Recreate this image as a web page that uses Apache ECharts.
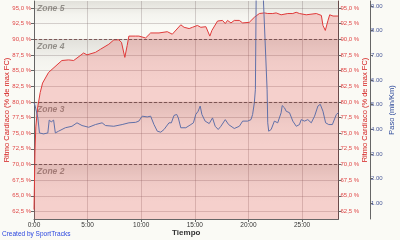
<!DOCTYPE html>
<html><head><meta charset="utf-8">
<script src="https://cdn.jsdelivr.net/npm/echarts@6/dist/echarts.min.js"></script>
<style>html,body{margin:0;padding:0;background:#fafaf5}#c{width:400px;height:240px}</style>
</head><body><div id="c"></div>
<script>
// Heart rate (% of max HR) vs time (minutes)
const hrTime = [0,0.02,0.09,0.17,0.33,0.58,0.80,1.36,2.60,3.23,3.70,4.63,4.94,5.73,6.20,6.98,7.45,7.91,8.16,8.47,8.69,8.85,9.48,9.78,10.41,10.88,11.66,12.43,12.90,13.69,14.00,14.47,14.78,15.24,15.56,16.03,16.18,16.40,16.59,17.12,17.58,17.84,18.05,18.37,18.68,19.15,19.46,20.08,20.55,21.02,21.49,21.80,21.96,22.27,22.58,23.05,23.67,24.14,24.45,24.76,25.39,26.33,26.80,26.95,27.17,27.42,27.58,27.73,27.89,28.35];
const hrPct = [62.8,64.9,72.0,76.0,79.0,81.5,83.0,84.7,86.6,86.7,86.6,87.8,87.5,87.9,88.4,89.2,89.9,89.9,89.5,87.1,89.0,90.5,90.5,90.5,90.2,91.0,91.0,91.2,90.8,92.3,91.9,91.7,91.9,92.2,91.9,92.0,92.3,90.5,91.4,92.9,93.0,92.5,93.0,92.6,93.0,93.0,92.6,92.7,93.5,94.1,94.2,94.1,94.4,94.1,94.2,93.9,94.1,94.1,94.3,94.1,93.9,94.1,93.8,92.2,91.4,93.0,93.9,94.1,93.7,93.7];
// Pace (min/Km) vs time (minutes)
const paceTime = [0,0.11,0.36,0.51,0.89,1.29,1.42,1.61,1.83,1.99,2.29,2.92,3.54,4.01,4.48,5.10,5.73,6.35,6.67,7.44,8.22,8.85,9.48,9.78,10.09,10.56,10.88,11.19,11.50,11.82,12.13,12.59,12.81,13.06,13.31,13.46,13.69,14.16,14.63,14.87,15.09,15.31,15.50,15.66,15.96,16.34,16.65,16.90,17.18,17.43,17.84,18.15,18.68,19.15,19.46,19.93,20.24,20.39,20.55,20.65,20.83,21.74,21.80,21.89,22.12,22.42,22.73,23.05,23.15,23.36,23.52,23.83,24.14,24.46,24.76,24.92,25.23,25.54,25.86,26.17,26.48,26.70,26.95,27.20,27.49,27.83,28.20,28.40];
const paceVal = [5.07,4.94,4.46,3.85,3.81,3.85,4.37,4.30,4.37,3.85,3.92,4.06,4.12,4.26,4.15,4.08,4.19,4.26,4.15,4.12,4.19,4.26,4.28,4.33,4.53,4.50,4.53,4.19,3.92,3.88,3.99,4.26,4.26,4.56,4.60,4.46,4.06,4.06,4.19,4.26,4.60,4.73,4.94,4.60,4.33,4.23,4.46,4.12,3.99,4.12,4.39,4.19,4.03,4.12,4.33,4.33,4.39,4.60,5.07,5.62,15.2,5.62,4.26,3.92,3.99,4.33,4.26,4.67,4.96,4.87,4.73,4.67,4.33,4.12,4.19,4.39,4.33,4.39,4.26,4.53,4.94,5.01,4.73,4.26,4.19,4.19,4.60,4.67];
// Axis ticks
const timeTicks = [0,5,10,15,20,25];
const hrTicks = [62.5,65,67.5,70,72.5,75,77.5,80,82.5,85,87.5,90,92.5,95];
const paceTicks = [1,2,3,4,5,6,7,8,9];
// Zones
const zoneNames = ['Zone 5','Zone 4','Zone 3','Zone 2'];
const zoneBounds = [90,80,70];

const HR_MIN = 61.3, HR_MAX = 96.1;
const FONT = 'Liberation Sans';
const hrFmt = v => v.toFixed(1).replace('.', ',') + ' %';

const bandGrad = {type:'linear',x:0,y:0,x2:0,y2:1,colorStops:[
  {offset:0,color:'rgba(60,50,40,0.13)'},{offset:0.35,color:'rgba(60,50,40,0.03)'},{offset:0.7,color:'rgba(60,50,40,0)'},{offset:1,color:'rgba(60,50,40,0)'}]};
const zoneTops = [HR_MAX].concat(zoneBounds);
const zoneBots = zoneBounds.concat([HR_MIN]);
const markAreaData = zoneNames.map((n,i)=>[
  {yAxis: zoneTops[i], name: n, itemStyle:{color: bandGrad}},
  {yAxis: zoneBots[i]}
]);
const hrData = hrTime.map((t,i)=>[t,hrPct[i]]);

const chart = echarts.init(document.getElementById('c'), null, {renderer:'canvas'});
chart.setOption({
  animation:false,
  backgroundColor:'#fafaf5',
  textStyle:{fontFamily:FONT},
  grid:{left:34, right:61.5, top:1, bottom:21, show:false, containLabel:false, outerBoundsMode:'none'},
  xAxis:{
    type:'value', min:0, max:28.4,
    name:'Tiempo', nameLocation:'middle', nameGap:10, nameMoveOverlap:false,
    nameTextStyle:{fontFamily:FONT,fontSize:8,fontWeight:'bold',color:'#333'},
    axisLine:{show:true,onZero:false,lineStyle:{color:'#666',width:1}},
    axisTick:{show:true,length:3,customValues:timeTicks,lineStyle:{color:'#666'}},
    axisLabel:{customValues:timeTicks,formatter:v=>v+':00',fontFamily:FONT,fontSize:6.5,color:'#333',margin:3},
    splitLine:{show:true,lineStyle:{color:'rgba(120,100,100,0.28)',width:1}}
  },
  yAxis:[
    {type:'value', position:'left', min:HR_MIN, max:HR_MAX,
     name:'Ritmo Cardíaco (% de max FC)', nameLocation:'middle', nameGap:23, nameRotate:90, nameMoveOverlap:false,
     nameTextStyle:{fontFamily:FONT,fontSize:7.5,color:'#d42020'},
     axisLine:{show:true,lineStyle:{color:'#666'}},
     axisTick:{show:true,length:3,customValues:hrTicks,lineStyle:{color:'#666'}},
     axisLabel:{customValues:hrTicks,formatter:hrFmt,fontFamily:FONT,fontSize:6,color:'#e04848',margin:3},
     splitLine:{show:true,lineStyle:{color:'rgba(120,100,100,0.28)',width:1}}
    },
    {type:'value', position:'right', min:HR_MIN, max:HR_MAX,
     name:'Ritmo Cardíaco (% de max FC)', nameLocation:'middle', nameGap:22, nameRotate:90, nameMoveOverlap:false,
     nameTextStyle:{fontFamily:FONT,fontSize:7.5,color:'#d42020'},
     axisLine:{show:true,lineStyle:{color:'#6a4a4a'}},
     axisTick:{show:true,length:3,customValues:hrTicks,lineStyle:{color:'#666'}},
     axisLabel:{customValues:hrTicks,formatter:hrFmt,fontFamily:FONT,fontSize:6,color:'#e04848',margin:2},
     splitLine:{show:false}
    },
    {type:'value', position:'right', offset:31.5, min:0.36, max:9.2,
     name:'Paso (min/Km)', nameLocation:'middle', nameGap:18, nameRotate:90, nameMoveOverlap:false,
     nameTextStyle:{fontFamily:FONT,fontSize:7.5,color:'#304c9c'},
     axisLine:{show:true,lineStyle:{color:'#666'}},
     axisTick:{show:true,length:3,customValues:paceTicks,lineStyle:{color:'#666'}},
     axisLabel:{customValues:paceTicks,formatter:v=>v.toFixed(2),fontFamily:FONT,fontSize:6,color:'#4a5a9a',margin:1},
     splitLine:{show:false}
    }
  ],
  series:[
    {type:'line', z:1, data:hrData, yAxisIndex:0, silent:true, showSymbol:false,
     lineStyle:{width:0,opacity:0},
     markArea:{silent:true, data:markAreaData,
       label:{show:true,position:'insideTopLeft',distance:3,fontFamily:FONT,fontSize:8.5,fontStyle:'italic',fontWeight:'bold',color:'rgba(110,105,100,0.7)'}},
     markLine:{silent:true, symbol:'none', label:{show:false},
       lineStyle:{type:[3,2],color:'rgba(110,70,70,0.85)',width:1},
       data:zoneBounds.map(b=>({yAxis:b}))}
    },
    {type:'line', z:2, yAxisIndex:0, showSymbol:false, smooth:false,
     data:hrData,
     lineStyle:{color:'#e03a3a',width:1},
     areaStyle:{origin:'start',color:'rgba(225,50,50,0.3)'}
    },
    {type:'line', z:3, yAxisIndex:2, showSymbol:false, smooth:false,
     data:paceTime.map((t,i)=>[t,paceVal[i]]),
     lineStyle:{color:'#6070a8',width:1}
    }
  ],
  graphic:[{type:'text',left:2,top:231,style:{text:'Created by SportTracks',fontFamily:FONT,fontSize:6.5,fill:'#2a46e0'}}]
});
</script></body></html>
